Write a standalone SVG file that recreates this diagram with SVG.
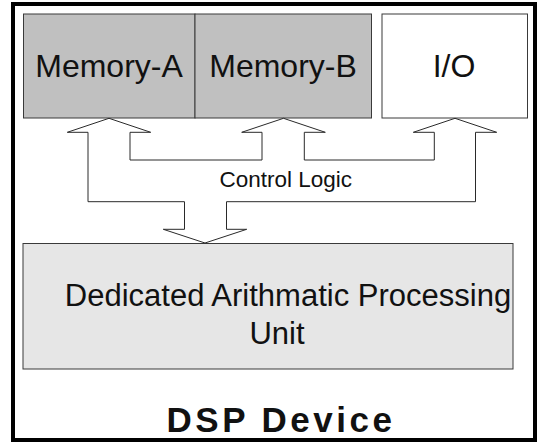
<svg xmlns="http://www.w3.org/2000/svg" width="537" height="444" viewBox="0 0 537 444">
<style>
.box{stroke:#3a3a3a;stroke-width:1}
.mem{fill:#c0c0c0}
.t{font-family:"Liberation Sans",Arial,sans-serif;fill:#111;text-anchor:middle}
.conn{fill:none;stroke:#2a2a2a;stroke-width:1;stroke-linejoin:miter}
</style>
<rect x="0" y="0" width="537" height="444" fill="#fff"/>
<g id="device">
<rect x="13" y="4" width="522" height="436" fill="none" stroke="#000" stroke-width="4"/>
<text class="t" x="281" y="432" font-size="35" font-weight="bold" letter-spacing="3.5">DSP Device</text>
</g>
<g id="memory-a">
<rect class="box mem" x="23.5" y="14" width="171.5" height="104"/>
<text class="t" x="109" y="77" font-size="32">Memory-A</text>
</g>
<g id="memory-b">
<rect class="box mem" x="195" y="14" width="176.5" height="104"/>
<text class="t" x="283" y="77" font-size="32">Memory-B</text>
</g>
<g id="io">
<rect class="box" x="382" y="14" width="145.5" height="104" fill="#fff"/>
<text class="t" x="454" y="77" font-size="32">I/O</text>
</g>
<g id="dapu">
<rect class="box" x="23" y="243.5" width="490" height="125.5" fill="#e6e6e6"/>
<text class="t" x="288" y="306" font-size="31">Dedicated Arithmatic Processing</text>
<text class="t" x="277" y="344" font-size="31">Unit</text>
</g>
<g id="connectors">
<path class="conn" d="M184.5,229.3 V201.7 H88 V132.3 H67.3 L109,118.3 L150.7,132.3 H130 V160 H262 V132.3 H241.7 L283.5,118.3 L325.3,132.3 H304.3 V160 H434.3 V132.3 H413.3 L455,118.3 L496.7,132.3 H475.5 V201.7 H226.5 V229.3 H246.7 L205,243 L163.3,229.3 Z"/>
<text class="t" x="285.7" y="186.7" font-size="22.5">Control Logic</text>
</g>
</svg>
